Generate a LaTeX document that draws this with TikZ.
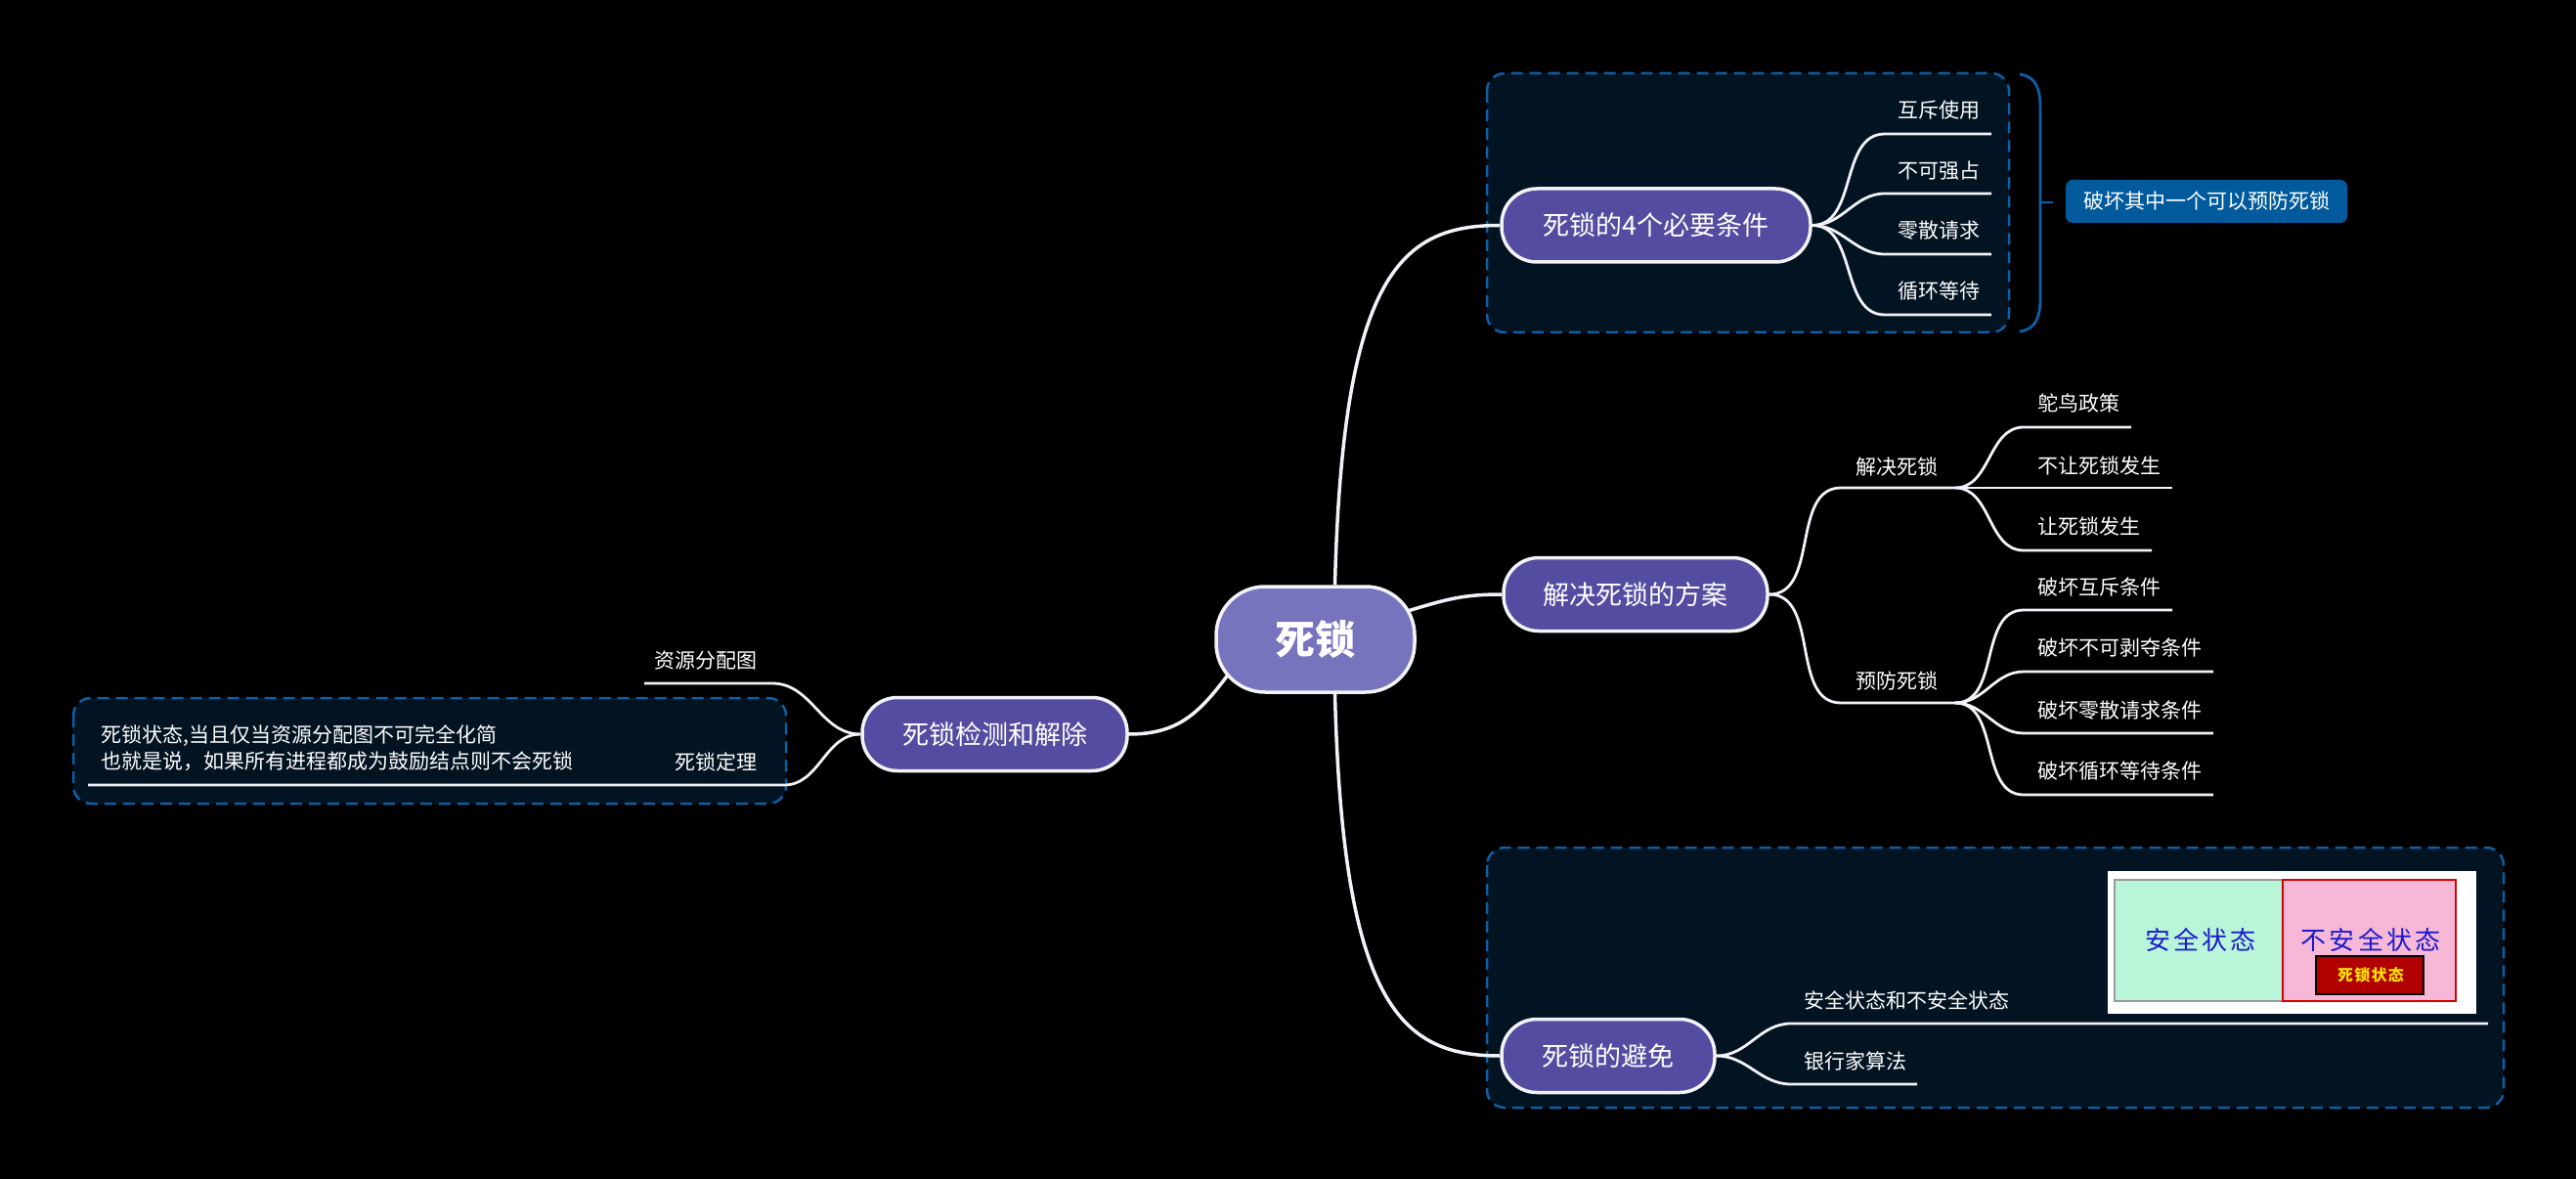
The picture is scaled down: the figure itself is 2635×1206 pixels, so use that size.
\documentclass[tikz,border=0pt]{standalone}
\usepackage{fontspec}
\setmainfont{Noto Sans CJK SC}
\newfontfamily\cjkfont{Noto Sans CJK SC}
\usetikzlibrary{calc}
\definecolor{grpfill}{HTML}{021322}
\definecolor{grpblue}{HTML}{0E5FA3}
\definecolor{topicfill}{HTML}{544CA0}
\definecolor{rootfill}{HTML}{7774BE}
\definecolor{lblfill}{HTML}{005A9C}
\definecolor{linecol}{HTML}{F2F2F8}
\definecolor{safegreen}{HTML}{B9F5D8}
\definecolor{unsafepink}{HTML}{F7B8D8}
\definecolor{dlred}{HTML}{B00000}
\definecolor{imgblue}{HTML}{1A1AC8}
\definecolor{dlyellow}{HTML}{FFE000}
\begin{document}
\begin{tikzpicture}[x=1pt,y=-1pt,
  every node/.style={inner sep=0pt},
  rootst/.style={draw=linecol, line width=3.5pt, fill=rootfill, rounded corners=50pt,
    minimum width=203pt, minimum height=108pt, text=white,
    font=\fontsize{41}{44}\selectfont\bfseries},
  topic/.style={draw=linecol, line width=3.5pt, fill=topicfill, rounded corners=36pt,
    minimum height=75pt, text=white, font=\fontsize{27}{30}\selectfont},
  leaf/.style={text=white, font=\fontsize{21}{24}\selectfont, anchor=west},
  leafr/.style={text=white, font=\fontsize{21}{24}\selectfont, anchor=east},
  conn/.style={draw=linecol, line width=2.8pt},
  mainconn/.style={draw=linecol, line width=3.5pt},
  group/.style={draw=grpblue, fill=grpfill, line width=2.5pt, dash pattern=on 12pt off 7pt, rounded corners=18pt},
  bracest/.style={draw=grpblue, line width=2.8pt},
  lbl/.style={fill=lblfill, rounded corners=7pt, minimum width=288pt, minimum height=44pt,
    text=white, font=\fontsize{21}{24}\selectfont},
  imgtxt/.style={text=imgblue, font=\fontsize{26}{28}\selectfont\addfontfeature{LetterSpace=12}},
  dltxt/.style={text=dlyellow, font=\fontsize{16}{18}\selectfont\bfseries\addfontfeature{LetterSpace=8}}
]
\useasboundingbox (0,0) rectangle (2635,1206);
\fill[black] (0,0) rectangle (2635,1206);

% group boxes
\draw[group] (1521,75) rectangle (2055,340);
\draw[group] (1521,867) rectangle (2561,1133);
\draw[group] (75,714) rectangle (804,822);

% brace and label
\coordinate (bt) at (2100,207);
\draw[bracest] (2066,76) .. controls (2082,78) and (2087,90) .. (2087,110) -- (2087,305)
  .. controls (2087,325) and (2082,337) .. (2066,339);
\draw[bracest] (2087,207) -- (bt);
\node[lbl] (label) at (2257,206) {破坏其中一个可以预防死锁};

% root and topics
\node[rootst] (root) at (1345.5,654) {死锁};
\node[topic, minimum width=316pt] (cond) at (1694,230.5) {死锁的4个必要条件};
\node[topic, minimum width=270pt] (sol) at (1673,608) {解决死锁的方案};
\node[topic, minimum width=218pt] (avoid) at (1645,1080) {死锁的避免};
\node[topic, minimum width=271pt] (detect) at (1017.5,751) {死锁检测和解除};

\draw[mainconn] ($(root.north)+(20,0)$) .. controls +(8,-320) and +(-100,0) .. (cond.west);
\draw[mainconn] ($(root.south)+(20,0)$) .. controls +(8,320) and +(-100,0) .. (avoid.west);
\draw[mainconn] ($(root.east)+(-9,-29)$) .. controls +(40,-12) and +(-40,0) .. (sol.west);
\draw[mainconn] ($(root.west)+(14,36)$) .. controls +(-30,40) and +(50,0) .. (detect.east);

% conditions
\node[leaf] (c1) at (1941,113) {互斥使用};
\node[leaf] (c2) at (1941,175) {不可强占};
\node[leaf] (c3) at (1941,236) {零散请求};
\node[leaf] (c4) at (1941,298) {循环等待};
\coordinate (c1a) at (1928,137); \coordinate (c1b) at (2037,137);
\coordinate (c2a) at (1928,198); \coordinate (c2b) at (2037,198);
\coordinate (c3a) at (1928,260); \coordinate (c3b) at (2037,260);
\coordinate (c4a) at (1928,322); \coordinate (c4b) at (2037,322);
\draw[conn] (cond.east) to[out=0,in=180] (c1a) -- (c1b);
\draw[conn] (cond.east) to[out=0,in=180] (c2a) -- (c2b);
\draw[conn] (cond.east) to[out=0,in=180] (c3a) -- (c3b);
\draw[conn] (cond.east) to[out=0,in=180] (c4a) -- (c4b);

% solutions
\node[leaf] (s1) at (1898,477) {解决死锁};
\node[leaf] (s2) at (1898,696) {预防死锁};
\coordinate (s1a) at (1883,499); \coordinate (s1b) at (2000,499);
\coordinate (s2a) at (1883,719); \coordinate (s2b) at (2000,719);
\draw[conn] (sol.east) to[out=0,in=180] (s1a) -- (s1b);
\draw[conn] (sol.east) to[out=0,in=180] (s2a) -- (s2b);

\node[leaf] (g1) at (2084,412) {鸵鸟政策};
\node[leaf] (g2) at (2084,476) {不让死锁发生};
\node[leaf] (g3) at (2084,538) {让死锁发生};
\coordinate (g1a) at (2070,437); \coordinate (g1b) at (2180,437);
\coordinate (g2b) at (2222,499);
\coordinate (g3a) at (2070,563); \coordinate (g3b) at (2201,563);
\draw[conn] (s1b) to[out=0,in=180] (g1a) -- (g1b);
\draw[conn] (s1b) -- (g2b);
\draw[conn] (s1b) to[out=0,in=180] (g3a) -- (g3b);

\node[leaf] (h1) at (2084,601) {破坏互斥条件};
\node[leaf] (h2) at (2084,663) {破坏不可剥夺条件};
\node[leaf] (h3) at (2084,727) {破坏零散请求条件};
\node[leaf] (h4) at (2084,789) {破坏循环等待条件};
\coordinate (h1a) at (2070,624); \coordinate (h1b) at (2222,624);
\coordinate (h2a) at (2070,687); \coordinate (h2b) at (2264,687);
\coordinate (h3a) at (2070,750); \coordinate (h3b) at (2264,750);
\coordinate (h4a) at (2070,813); \coordinate (h4b) at (2264,813);
\draw[conn] (s2b) to[out=0,in=180] (h1a) -- (h1b);
\draw[conn] (s2b) to[out=0,in=180] (h2a) -- (h2b);
\draw[conn] (s2b) to[out=0,in=180] (h3a) -- (h3b);
\draw[conn] (s2b) to[out=0,in=180] (h4a) -- (h4b);

% avoidance
\node[leaf] (a1) at (1845,1023) {安全状态和不安全状态};
\node[leaf] (a2) at (1845,1085) {银行家算法};
\coordinate (a1a) at (1832,1047); \coordinate (a1b) at (2545,1047);
\coordinate (a2a) at (1832,1109); \coordinate (a2b) at (1961,1109);
\draw[conn] (avoid.east) to[out=0,in=180] (a1a) -- (a1b);
\draw[conn] (avoid.east) to[out=0,in=180] (a2a) -- (a2b);

% image
\fill[white] (2156,891) rectangle (2533,1037);
\draw[draw=gray!80, fill=safegreen, line width=1.5pt] (2163,900) rectangle (2335,1024);
\draw[draw=red!85!black, fill=unsafepink, line width=1.5pt] (2335,900) rectangle (2512,1024);
\draw[draw=black, fill=dlred, line width=2pt] (2369,978) rectangle (2479,1017);
\node[imgtxt] (safe) at (2251,961) {安全状态};
\node[imgtxt] (unsafe) at (2425,961) {不安全状态};
\node[dltxt] (dl) at (2425,997) {死锁状态};

% detection
\node[leafr] (d1) at (775,676) {资源分配图};
\node[leafr] (d2) at (775,779) {死锁定理};
\node[leaf] (note1) at (103,753) {死锁状态,当且仅当资源分配图不可完全化简};
\node[leaf] (note2) at (103,779) {也就是说，如果所有进程都成为鼓励结点则不会死锁};
\coordinate (d1a) at (790,699); \coordinate (d1b) at (659,699);
\coordinate (d2a) at (802,803); \coordinate (d2b) at (90,803);
\draw[conn] (detect.west) to[out=180,in=0] (d1a) -- (d1b);
\draw[conn] (detect.west) to[out=180,in=0] (d2a) -- (d2b);
\end{tikzpicture}
\end{document}
